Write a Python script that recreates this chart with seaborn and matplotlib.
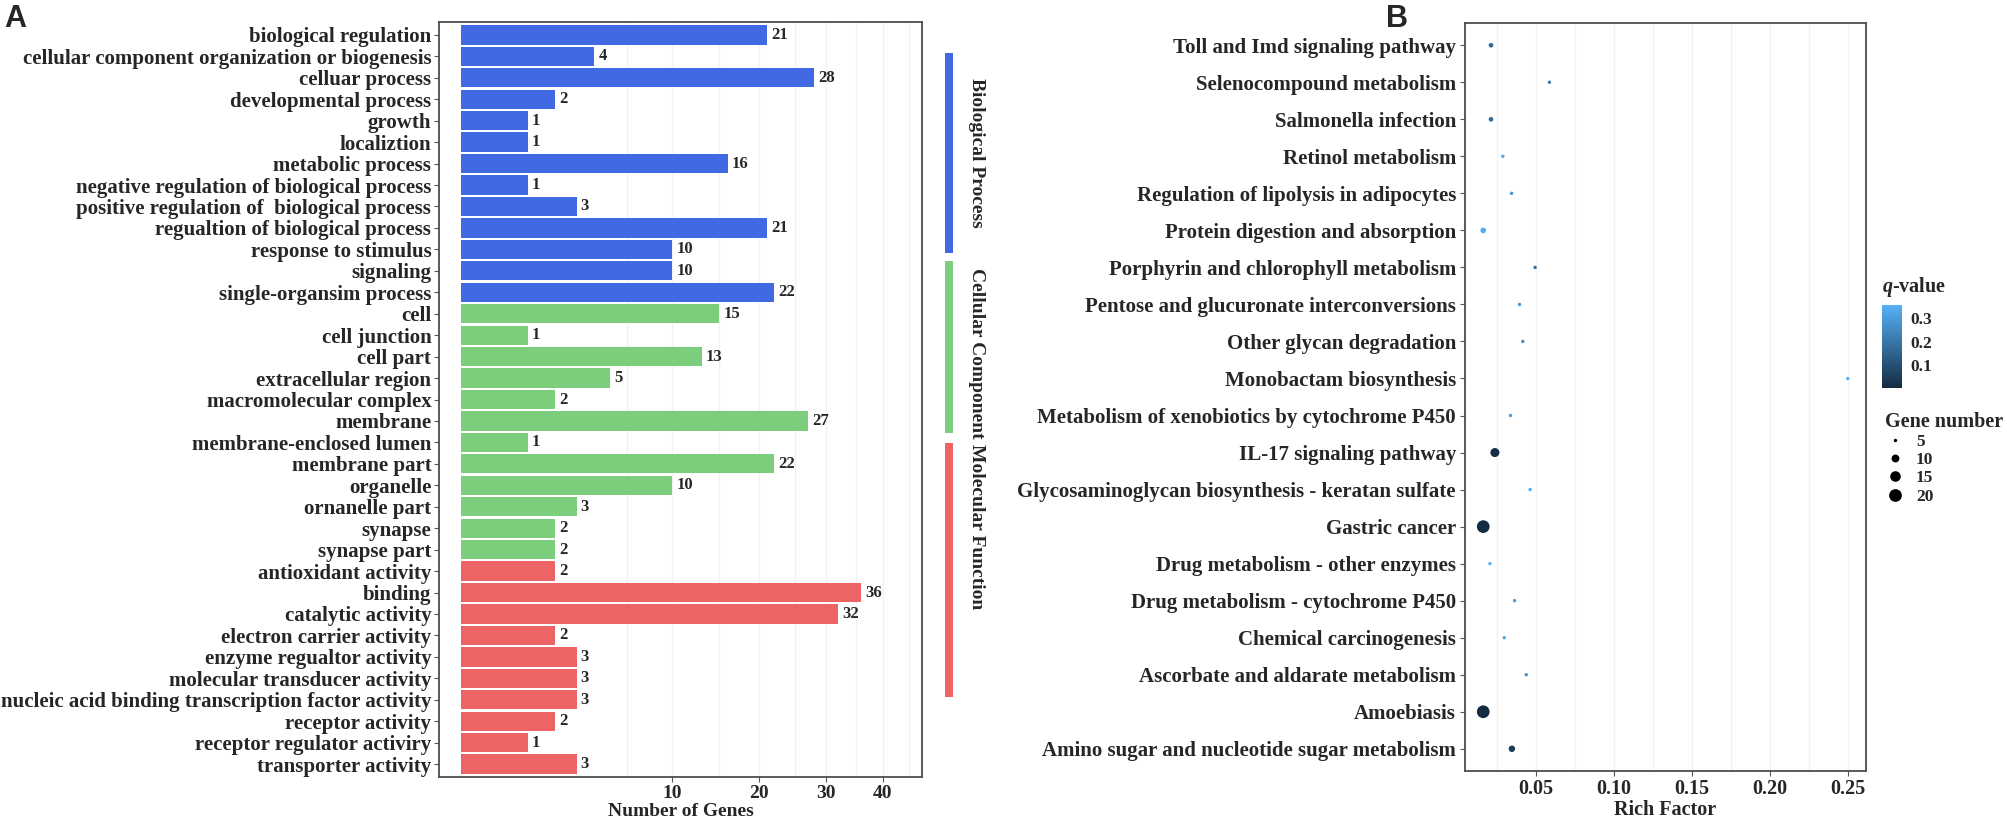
import numpy as np
import pandas as pd
import matplotlib
matplotlib.use("Agg")
import matplotlib.pyplot as plt
import seaborn as sns
from matplotlib.colors import LinearSegmentedColormap, Normalize
from matplotlib.lines import Line2D
import matplotlib.colorbar as mcolorbar

# --- Panel A data: GO classification ---
go_terms = [
    "biological regulation", "cellular component organization or biogenesis", "celluar process",
    "developmental process", "growth", "localiztion", "metabolic process",
    "negative regulation of biological process", "positive regulation of  biological process",
    "regualtion of biological process", "response to stimulus", "signaling", "single-organsim process",
    "cell", "cell junction", "cell part", "extracellular region", "macromolecular complex",
    "membrane", "membrane-enclosed lumen", "membrane part", "organelle", "ornanelle part",
    "synapse", "synapse part",
    "antioxidant activity", "binding", "catalytic activity", "electron carrier activity",
    "enzyme regualtor activity", "molecular transducer activity",
    "nucleic acid binding transcription factor activity", "receptor activity",
    "receptor regulator activiry", "transporter activity",
]
go_counts = [21, 4, 28, 2, 1, 1, 16, 1, 3, 21, 10, 10, 22,
             15, 1, 13, 5, 2, 27, 1, 22, 10, 3, 2, 2,
             2, 36, 32, 2, 3, 3, 3, 2, 1, 3]
go_groups = (["Biological Process"] * 13 + ["Cellular Component"] * 12
             + ["Molecular Function"] * 10)
group_names = ["Biological Process", "Cellular Component", "Molecular Function"]
group_colors = ["#4169E1", "#7CCD7C", "#EE6363"]
count_ticks = [10, 20, 30, 40]

# --- Panel B data: KEGG enrichment ---
pathways = [
    "Toll and Imd signaling pathway", "Selenocompound metabolism", "Salmonella infection",
    "Retinol metabolism", "Regulation of lipolysis in adipocytes", "Protein digestion and absorption",
    "Porphyrin and chlorophyll metabolism", "Pentose and glucuronate interconversions",
    "Other glycan degradation", "Monobactam biosynthesis",
    "Metabolism of xenobiotics by cytochrome P450", "IL-17 signaling pathway",
    "Glycosaminoglycan biosynthesis - keratan sulfate", "Gastric cancer",
    "Drug metabolism - other enzymes", "Drug metabolism - cytochrome P450",
    "Chemical carcinogenesis", "Ascorbate and aldarate metabolism", "Amoebiasis",
    "Amino sugar and nucleotide sugar metabolism",
]
rich_factor = [0.021, 0.0585, 0.021, 0.0286, 0.0342, 0.016, 0.0493, 0.0393, 0.0414, 0.25,
               0.0335, 0.0235, 0.0461, 0.016, 0.0203, 0.0361, 0.0295, 0.0436, 0.016, 0.0344]
q_value = [0.17, 0.22, 0.17, 0.33, 0.28, 0.34, 0.19, 0.28, 0.26, 0.357,
           0.30, 0.01, 0.357, 0.0005, 0.357, 0.30, 0.33, 0.27, 0.0005, 0.04]
gene_number = [6, 5, 6, 5, 5, 7, 5, 5, 5, 4,
               5, 12, 5, 23, 5, 5, 5, 5, 23, 8]
rich_ticks = [0.05, 0.10, 0.15, 0.20, 0.25]
q_ticks = [0.1, 0.2, 0.3]
size_levels = [5, 10, 15, 20]

sns.set_theme(style="white")
plt.rcParams["font.family"] = ["Liberation Serif", "DejaVu Serif"]
plt.rcParams["font.weight"] = "bold"
plt.rcParams["mathtext.fontset"] = "custom"
plt.rcParams["mathtext.it"] = "Liberation Serif:italic:bold"
plt.rcParams["mathtext.rm"] = "Liberation Serif:bold"

W, H = 2008, 825
fig = plt.figure(figsize=(W / 100, H / 100), dpi=100)


def fbox(x0, y0, x1, y1):
    # pixel box -> figure fraction rect
    return [x0 / W, 1 - y1 / H, (x1 - x0) / W, (y1 - y0) / H]


frame_col = "#4D4D4D"
grid_col = "#F2F2F2"

# ================= Panel A =================
axA = fig.add_axes(fbox(439, 22, 922, 777))
df_go = pd.DataFrame({"term": go_terms, "count": go_counts, "group": go_groups})
sns.barplot(data=df_go, y="term", x="count", hue="group", order=go_terms,
            hue_order=group_names, palette=dict(zip(group_names, group_colors)),
            dodge=False, width=0.9, errorbar=None, legend=False, ax=axA,
            edgecolor="none", saturation=1)


def sfwd(x):
    x = np.asarray(x, dtype=float)
    return np.sign(x) * np.sqrt(np.abs(x))


def sinv(y):
    y = np.asarray(y, dtype=float)
    return np.sign(y) * y ** 2


# square-root count axis
axA.set_xscale("function", functions=(sfwd, sinv))
axA.set_xlim(-0.33 ** 2, 6.91 ** 2)
axA.set_ylim(len(go_terms) - 0.4, -0.6)
axA.set_xticks(count_ticks)
axA.set_xticks([6.2, 15, 25, 35, 45], minor=True)
axA.set_xticklabels([str(t) for t in count_ticks], fontsize=14, fontweight="bold")
axA.grid(axis="x", which="both", color=grid_col, linewidth=1)
axA.set_axisbelow(True)
axA.tick_params(axis="y", labelsize=15, length=3.5, width=0.8, color="#555555", pad=2, left=True)
axA.tick_params(axis="x", which="major", labelsize=14, length=3.5, width=0.8, color="#555555", pad=2, bottom=True)
axA.tick_params(axis="x", which="minor", length=0)
for lab in axA.get_yticklabels():
    lab.set_fontweight("bold")
axA.set_ylabel("")
axA.set_xlabel("Number of Genes", fontsize=14, fontweight="bold", labelpad=1)
for sp in axA.spines.values():
    sp.set_visible(True)
    sp.set_color(frame_col)
    sp.set_linewidth(1.3)

for i, v in enumerate(go_counts):
    axA.annotate(str(v), xy=(v, i), xytext=(3, 0), textcoords="offset points",
                 va="center", ha="left", fontsize=12, fontweight="bold")

# group strips on the right
strip_spans = [(53, 253), (261, 433), (443, 697)]
text_centers = [153, 353, 527]
for (y0, y1), yc, name, col in zip(strip_spans, text_centers, group_names, group_colors):
    sax = fig.add_axes(fbox(945, y0, 953, y1))
    sax.set_facecolor(col)
    sax.set_xticks([])
    sax.set_yticks([])
    for sp in sax.spines.values():
        sp.set_visible(False)
    fig.text(977 / W, 1 - yc / H, name, rotation=270, ha="center", va="center",
             fontsize=14, fontweight="bold")

# ================= Panel B =================
axB = fig.add_axes(fbox(1465, 23, 1866, 771))
df_kegg = pd.DataFrame({"pathway": pathways, "rich": rich_factor,
                        "q": q_value, "genes": gene_number})
qmin, qmax = 0.0, max(q_value)
cmap = LinearSegmentedColormap.from_list("qv", ["#132B43", "#56B1F7"])
size_range = (6, 84)
size_norm = (5, 20)
sns.scatterplot(data=df_kegg, x="rich", y="pathway", hue="q", size="genes",
                palette=cmap, hue_norm=(qmin, qmax), sizes=size_range, size_norm=size_norm,
                linewidth=0, legend=False, ax=axB)
axB.set_ylim(len(pathways) - 0.4, -0.6)
span = max(rich_factor) - min(rich_factor)
axB.set_xlim(min(rich_factor) - 0.05 * span, max(rich_factor) + 0.05 * span)
axB.set_xticks(rich_ticks)
axB.set_xticklabels([f"{t:.2f}" for t in rich_ticks])
axB.set_xticks([0.025, 0.075, 0.125, 0.175, 0.225], minor=True)
axB.grid(axis="x", which="both", color=grid_col, linewidth=1)
axB.set_axisbelow(True)
axB.tick_params(axis="y", labelsize=15, length=3.5, width=0.8, color="#555555", pad=3, left=True)
axB.tick_params(axis="x", which="major", labelsize=14.5, length=3.5, width=0.8, color="#555555", pad=2, bottom=True)
axB.tick_params(axis="x", which="minor", length=0)
axB.set_ylabel("")
axB.set_xlabel("Rich Factor", fontsize=14.5, fontweight="bold", labelpad=1)
for sp in axB.spines.values():
    sp.set_visible(True)
    sp.set_color(frame_col)
    sp.set_linewidth(1.3)

# colour bar for q-value
cax = fig.add_axes(fbox(1882, 305, 1902, 388))
cb = mcolorbar.ColorbarBase(cax, cmap=cmap, norm=Normalize(qmin, qmax), ticks=q_ticks)
cb.outline.set_visible(False)
cax.tick_params(axis="y", which="both", direction="in", length=4, width=1, color="white",
                labelsize=12.5, pad=6, right=True, left=True)
cax.set_yticklabels([f"{t:.1f}" for t in q_ticks], fontweight="bold")
fig.text(1882 / W, 1 - 292 / H, r"$\mathit{q}$-value", ha="left", va="baseline",
         fontsize=14.5, fontweight="bold")

# size legend for gene number
handles = [Line2D([], [], linestyle="none", marker="o", color="black", markeredgewidth=0,
                  markersize=np.sqrt(size_range[0] + (s - size_norm[0]) / (size_norm[1] - size_norm[0])
                                     * (size_range[1] - size_range[0])))
           for s in size_levels]
leg = fig.legend(handles, [str(s) for s in size_levels], title="Gene number",
                 loc="upper left", bbox_to_anchor=(1876 / W, 1 - 403 / H), frameon=False,
                 fontsize=12.5, title_fontsize=14.5, labelspacing=0.12, handletextpad=0.6,
                 handlelength=1.2, borderpad=0, alignment="left")
leg.get_title().set_fontweight("bold")
for t in leg.get_texts():
    t.set_fontweight("bold")

# panel letters
fig.text(4 / W, 1 - 4 / H, "A", ha="left", va="top", fontsize=22, fontweight="bold",
         family=["Liberation Sans", "DejaVu Sans"])
fig.text(1386 / W, 1 - 4 / H, "B", ha="left", va="top", fontsize=22, fontweight="bold",
         family=["Liberation Sans", "DejaVu Sans"])

fig.savefig("out.png", dpi=100, facecolor="white")
